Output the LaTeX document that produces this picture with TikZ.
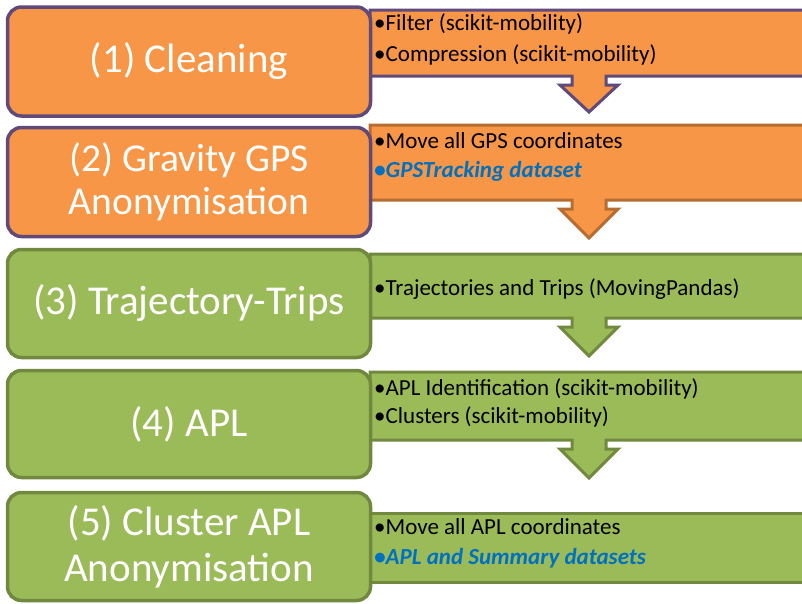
\documentclass[tikz,border=0pt]{standalone}
\usepackage{fontspec}
\setmainfont{Carlito}
\definecolor{orfill}{HTML}{F79646}
\definecolor{orline}{HTML}{B66D31}
\definecolor{pline}{HTML}{604A7B}
\definecolor{grfill}{HTML}{9BBB59}
\definecolor{grline}{HTML}{71893F}
\definecolor{blu}{HTML}{0070C0}
\tikzset{
  stagebox/.style={draw, line width=3.5pt, rounded corners=14pt, text=white, align=center, minimum width=363pt, font=\fontsize{41}{46}\selectfont},
  callout/.style={draw, line width=3pt, line join=miter},
  item/.style={anchor=base west, inner sep=0pt, font=\fontsize{23}{28}\selectfont},
  keyitem/.style={item, text=blu, font=\fontsize{23}{28}\selectfont\bfseries\itshape},
}
\newcommand{\calloutpath}[3]{% top y, bottom y, tip y
  (370,#1) -- (812,#1) -- (812,#2) -- (606,#2) -- (606,#2+9) -- (618,#2+9) -- (589,#3) -- (560,#2+9) -- (572,#2+9) -- (572,#2) -- (370,#2) -- cycle}
\begin{document}
\begin{tikzpicture}[x=1pt,y=-1pt]
\clip (0,0) rectangle (802,603);
\fill[white] (0,0) rectangle (802,603);
% callouts
\draw[callout, fill=orfill, draw=pline] \calloutpath{10}{76}{112};
\draw[callout, fill=orfill, draw=orline] \calloutpath{125}{200}{238};
\draw[callout, fill=grfill, draw=grline] \calloutpath{254}{318}{356};
\draw[callout, fill=grfill, draw=grline] \calloutpath{372}{440}{478};
\draw[callout, fill=grfill, draw=grline] (370,513) -- (812,513) -- (812,582) -- (370,582) -- cycle;
% stage boxes
\node[stagebox, fill=orfill, draw=pline, minimum height=109pt] (s1) at (189,61.5) {(1) Cleaning};
\node[stagebox, fill=orfill, draw=pline, minimum height=109pt, font=\fontsize{39.5}{43}\selectfont] (s2) at (189,182) {(2) Gravity GPS\\Anonymisation};
\node[stagebox, fill=grfill, draw=grline, minimum height=108pt] (s3) at (189,303.5) {(3) Trajectory-Trips};
\node[stagebox, fill=grfill, draw=grline, minimum height=107pt] (s4) at (189,424) {(4) APL};
\node[stagebox, fill=grfill, draw=grline, minimum height=108pt] (s5) at (189,546.5) {(5) Cluster APL\\Anonymisation};
% items
\node[item] (t1a) at (374,30) {•Filter (scikit-mobility)};
\node[item] (t1b) at (374,61) {•Compression (scikit-mobility)};
\node[item] (t2a) at (374,148) {•Move all GPS coordinates};
\node[keyitem] (t2b) at (374,177) {•GPSTracking dataset};
\node[item] (t3a) at (374,295) {•Trajectories and Trips (MovingPandas)};
\node[item] (t4a) at (374,395) {•APL Identification (scikit-mobility)};
\node[item] (t4b) at (374,423) {•Clusters (scikit-mobility)};
\node[item] (t5a) at (374,534) {•Move all APL coordinates};
\node[keyitem] (t5b) at (374,564) {•APL and Summary datasets};
\end{tikzpicture}
\end{document}
